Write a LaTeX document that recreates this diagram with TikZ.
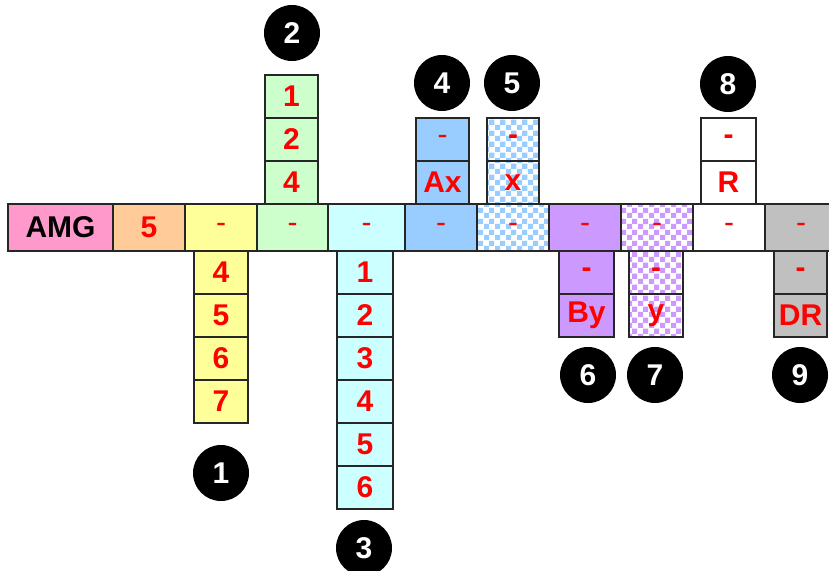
\documentclass[tikz,border=0pt]{standalone}
\usepackage{fontspec}
\setmainfont{Liberation Sans}
\usetikzlibrary{patterns}
\definecolor{cpink}{HTML}{FF99CC}
\definecolor{corange}{HTML}{FFCC99}
\definecolor{cyellow}{HTML}{FFFF99}
\definecolor{cgreen}{HTML}{CCFFCC}
\definecolor{ccyan}{HTML}{CCFFFF}
\definecolor{cblue}{HTML}{99CCFF}
\definecolor{cpurple}{HTML}{CC99FF}
\definecolor{cgray}{HTML}{C0C0C0}
\definecolor{cred}{HTML}{FF0000}
\pgfdeclarepatternformonly{chk}{\pgfpointorigin}{\pgfpoint{11pt}{11pt}}{\pgfpoint{11pt}{11pt}}{%
  \pgfpathrectangle{\pgfpointorigin}{\pgfpoint{5.5pt}{5.5pt}}%
  \pgfpathrectangle{\pgfpoint{5.5pt}{5.5pt}}{\pgfpoint{5.5pt}{5.5pt}}%
  \pgfusepath{fill}}
\begin{document}
\begin{tikzpicture}[x=1pt,y=-1pt,
  cell/.style={draw=black!85, line width=1.3pt, inner sep=0pt, text=cred,
    font=\fontsize{30}{30}\selectfont\bfseries},
  mainc/.style={cell, minimum height=47pt},
  stk/.style={cell, minimum height=43pt},
  thin/.style={font=\fontsize{30}{30}\selectfont},
  chkblue/.style={preaction={fill=white}, pattern=chk, pattern color=cblue},
  chkpurple/.style={preaction={fill=white}, pattern=chk, pattern color=cpurple},
  badge/.style={circle, fill=black, minimum size=56pt, inner sep=0pt, text=white,
    font=\fontsize{30}{30}\selectfont\bfseries}]
\useasboundingbox (0,0) rectangle (829,570);
\begin{scope}
\clip (0,0) rectangle (829,570);
% stacks
\node[stk, fill=cyellow, minimum width=54pt] (y4) at (221,272.5) {4};
\node[stk, fill=cyellow, minimum width=54pt] (y5) at (221,315.5) {5};
\node[stk, fill=cyellow, minimum width=54pt] (y6) at (221,358.5) {6};
\node[stk, fill=cyellow, minimum width=54pt] (y7) at (221,401.5) {7};
\node[stk, fill=cgreen, minimum width=53pt] (g4) at (291.5,182.5) {4};
\node[stk, fill=cgreen, minimum width=53pt] (g2) at (291.5,139.5) {2};
\node[stk, fill=cgreen, minimum width=53pt] (g1) at (291.5,96.5) {1};
\node[stk, fill=ccyan, minimum width=56pt] (c1) at (365,272.5) {1};
\node[stk, fill=ccyan, minimum width=56pt] (c2) at (365,315.5) {2};
\node[stk, fill=ccyan, minimum width=56pt] (c3) at (365,358.5) {3};
\node[stk, fill=ccyan, minimum width=56pt] (c4) at (365,401.5) {4};
\node[stk, fill=ccyan, minimum width=56pt] (c5) at (365,444.5) {5};
\node[stk, fill=ccyan, minimum width=56pt] (c6) at (365,487.5) {6};
\node[stk, fill=cblue, minimum width=53pt] (bA) at (442.5,182.5) {Ax};
\node[stk, fill=cblue, minimum width=53pt, thin] (bd) at (442.5,139.5) {-};
\node[stk, chkblue, minimum width=52pt] (kx) at (513,182.5) {x};
\node[stk, chkblue, minimum width=52pt] (kd) at (513,139.5) {-};
\node[stk, fill=cpurple, minimum width=55pt] (pd) at (586.5,272.5) {-};
\node[stk, fill=cpurple, minimum width=55pt] (pB) at (586.5,315.5) {By};
\node[stk, chkpurple, minimum width=54pt] (qd) at (656,272.5) {-};
\node[stk, chkpurple, minimum width=54pt] (qy) at (656,315.5) {y};
\node[stk, fill=white, minimum width=55pt] (wR) at (728.5,182.5) {R};
\node[stk, fill=white, minimum width=55pt] (wd) at (728.5,139.5) {-};
\node[stk, fill=cgray, minimum width=53pt] (sd) at (800.5,272.5) {-};
\node[stk, fill=cgray, minimum width=53pt] (sD) at (800.5,315.5) {DR};
% main row
\node[mainc, fill=cpink, minimum width=105pt, text=black] (amg) at (60.5,227.5) {AMG};
\node[mainc, fill=corange, minimum width=72pt] (m5) at (149,227.5) {5};
\node[mainc, fill=cyellow, minimum width=72pt, thin] (my) at (221,227.5) {-};
\node[mainc, fill=cgreen, minimum width=71pt, thin] (mg) at (292.5,227.5) {-};
\node[mainc, fill=ccyan, minimum width=77pt, thin] (mc) at (366.5,227.5) {-};
\node[mainc, fill=cblue, minimum width=72pt, thin] (mb) at (441,227.5) {-};
\node[mainc, chkblue, minimum width=72pt, thin] (mk) at (513,227.5) {-};
\node[mainc, fill=cpurple, minimum width=72pt, thin] (mp) at (585,227.5) {-};
\node[mainc, chkpurple, minimum width=72pt, thin] (mq) at (657,227.5) {-};
\node[mainc, fill=white, minimum width=72pt, thin] (mw) at (729,227.5) {-};
\node[mainc, fill=cgray, minimum width=72pt, thin] (ms) at (801,227.5) {-};
% badges
\node[badge] (n1) at (221,473) {1};
\node[badge] (n2) at (292,33) {2};
\node[badge] (n3) at (364,548) {3};
\node[badge] (n4) at (442,83) {4};
\node[badge] (n5) at (512,83) {5};
\node[badge] (n6) at (588,375) {6};
\node[badge] (n7) at (655,375) {7};
\node[badge] (n8) at (728,84) {8};
\node[badge] (n9) at (800,375) {9};
\end{scope}
\end{tikzpicture}
\end{document}
